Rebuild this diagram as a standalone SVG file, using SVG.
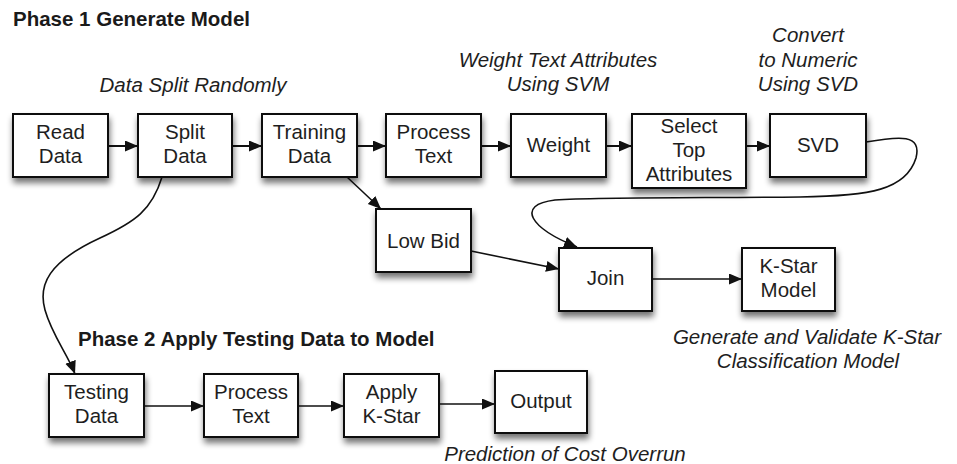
<svg xmlns="http://www.w3.org/2000/svg" width="957" height="464" viewBox="0 0 957 464">
<defs>
<filter id="sh" x="-20%" y="-20%" width="150%" height="160%">
<feGaussianBlur in="SourceAlpha" stdDeviation="3"/>
<feOffset dx="1" dy="5" result="b"/>
<feComponentTransfer><feFuncA type="linear" slope="0.55"/></feComponentTransfer>
<feMerge><feMergeNode/><feMergeNode in="SourceGraphic"/></feMerge>
</filter>
<marker id="ah" markerUnits="userSpaceOnUse" markerWidth="14" markerHeight="12" refX="13" refY="5.5" orient="auto">
<path d="M0,0 L13,5.5 L0,11 z" fill="#111"/>
</marker>
</defs>
<style>
.box{fill:#fff;stroke:#111;stroke-width:2;filter:url(#sh)}
.t{font-family:"Liberation Sans",Arial,sans-serif;font-size:20.5px;fill:#1e1e1e;text-anchor:middle}
.i{font-family:"Liberation Sans",Arial,sans-serif;font-size:20.5px;fill:#1e1e1e;text-anchor:middle;font-style:italic}
.h{font-family:"Liberation Sans",Arial,sans-serif;font-size:20.5px;fill:#1a1a1a;font-weight:bold}
.c{fill:none;stroke:#111;stroke-width:2;marker-end:url(#ah)}
.c2{fill:none;stroke:#111;stroke-width:1.6;marker-end:url(#ah)}
</style>
<rect width="957" height="464" fill="#fff"/>
<text class="h" x="13" y="26">Phase 1 Generate Model</text>
<text class="h" x="78" y="346">Phase 2 Apply Testing Data to Model</text>
<text class="i" x="193" y="92">Data Split Randomly</text>
<text class="i" x="558" y="67">Weight Text Attributes</text>
<text class="i" x="558" y="91">Using SVM</text>
<text class="i" x="808" y="42">Convert</text>
<text class="i" x="808" y="67">to Numeric</text>
<text class="i" x="808" y="91">Using SVD</text>
<text class="i" x="807" y="344">Generate and Validate K-Star</text>
<text class="i" x="808" y="368">Classification Model</text>
<text class="i" x="565" y="461">Prediction of Cost Overrun</text>
<g id="connectors">
<path class="c" d="M108,146 L138,146"/>
<path class="c" d="M232,146 L262,146"/>
<path class="c" d="M357,146 L386,146"/>
<path class="c" d="M481,146 L511,146"/>
<path class="c" d="M606,146 L632,146"/>
<path class="c" d="M746,146 L770,146"/>
<path class="c2" d="M866,142 C 900,136 922,134 916,158 C 906,190 870,196 800,197 C 700,198 600,197 555,200 C 515,205 530,228 577,247"/>
<path class="c2" d="M347,177 L381,209"/>
<path class="c2" d="M471,251 L559,269"/>
<path class="c2" d="M652,279 L742,279"/>
<path class="c2" d="M162,177 C 152,210 135,222 100,238 C 48,262 38,285 45,310 C 52,335 68,355 75,374"/>
<path class="c2" d="M144,406 L204,406"/>
<path class="c2" d="M298,406 L344,406"/>
<path class="c2" d="M439,404 L495,404"/>
</g>
<g id="read"><rect class="box" x="13" y="114" width="95" height="63"/><text class="t" x="60.5" y="139">Read</text><text class="t" x="60.5" y="163">Data</text></g>
<g id="split"><rect class="box" x="138" y="114" width="94" height="63"/><text class="t" x="185" y="139">Split</text><text class="t" x="185" y="163">Data</text></g>
<g id="training"><rect class="box" x="262" y="114" width="95" height="63"/><text class="t" x="309.5" y="139">Training</text><text class="t" x="309.5" y="163">Data</text></g>
<g id="process1"><rect class="box" x="386" y="114" width="95" height="63"/><text class="t" x="433.5" y="139">Process</text><text class="t" x="433.5" y="163">Text</text></g>
<g id="weight"><rect class="box" x="511" y="114" width="95" height="63"/><text class="t" x="558.5" y="152">Weight</text></g>
<g id="select"><rect class="box" x="632" y="114" width="114" height="74"/><text class="t" x="689" y="133">Select</text><text class="t" x="689" y="157">Top</text><text class="t" x="689" y="181">Attributes</text></g>
<g id="svd"><rect class="box" x="770" y="114" width="96" height="63"/><text class="t" x="818" y="152">SVD</text></g>
<g id="lowbid"><rect class="box" x="376" y="209" width="95" height="63"/><text class="t" x="423.5" y="248">Low Bid</text></g>
<g id="join"><rect class="box" x="559" y="248" width="93" height="63"/><text class="t" x="605.5" y="285">Join</text></g>
<g id="kstar"><rect class="box" x="742" y="248" width="93" height="63"/><text class="t" x="788.5" y="273">K-Star</text><text class="t" x="788.5" y="297">Model</text></g>
<g id="testing"><rect class="box" x="49" y="374" width="95" height="63"/><text class="t" x="96.5" y="399">Testing</text><text class="t" x="96.5" y="423">Data</text></g>
<g id="process2"><rect class="box" x="204" y="374" width="94" height="63"/><text class="t" x="251" y="399">Process</text><text class="t" x="251" y="423">Text</text></g>
<g id="apply"><rect class="box" x="344" y="374" width="95" height="63"/><text class="t" x="391.5" y="399">Apply</text><text class="t" x="391.5" y="423">K-Star</text></g>
<g id="output"><rect class="box" x="495" y="371" width="92" height="62"/><text class="t" x="541" y="408">Output</text></g>
</svg>
